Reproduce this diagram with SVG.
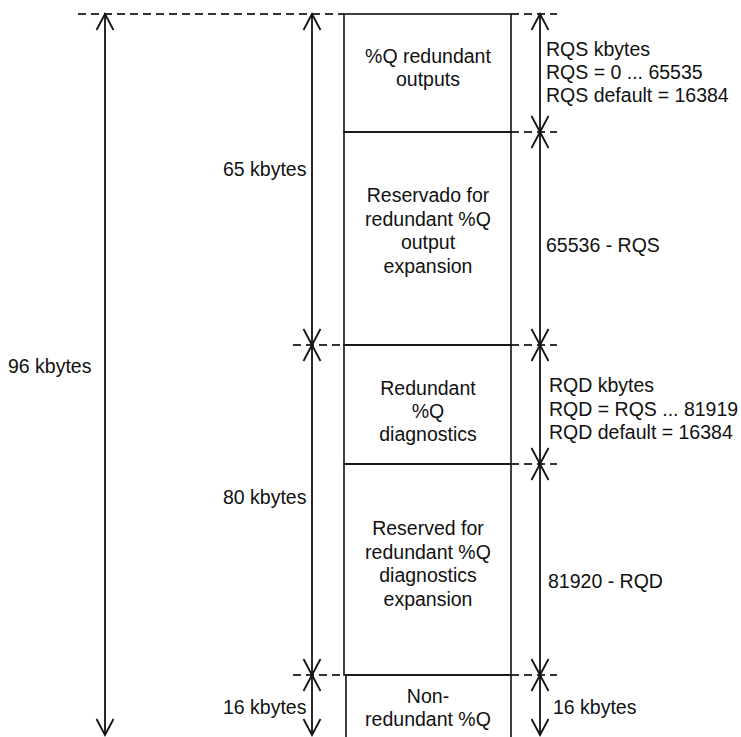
<svg xmlns="http://www.w3.org/2000/svg" width="741" height="737" viewBox="0 0 741 737">
<style>
text{font-family:"Liberation Sans",Arial,sans-serif;font-size:19.5px;fill:#111}
.c{text-anchor:middle}
.box{fill:none;stroke:#111;stroke-width:1.6}
.dash{stroke:#333;stroke-width:2;stroke-dasharray:8,5;fill:none}
.ar{stroke:#111;stroke-width:1.8;fill:none}
</style>
<defs>
<marker id="ah" markerWidth="20" markerHeight="20" refX="18" refY="10" orient="auto-start-reverse" markerUnits="userSpaceOnUse" viewBox="0 0 20 20">
<path d="M2,1.5 L18,10 L2,18.5" fill="none" stroke="#111" stroke-width="1.8"/>
</marker>
</defs>
<rect width="741" height="737" fill="#fff"/>
<g id="connectors">
<line class="dash" x1="78" y1="14" x2="344" y2="14"/>
<line class="dash" x1="293" y1="345" x2="344" y2="345"/>
<line class="dash" x1="293" y1="675" x2="344" y2="675"/>
<line class="dash" x1="511" y1="14" x2="557" y2="14"/>
<line class="dash" x1="511" y1="132" x2="557" y2="132"/>
<line class="dash" x1="511" y1="345" x2="557" y2="345"/>
<line class="dash" x1="511" y1="464" x2="557" y2="464"/>
<line class="dash" x1="511" y1="675" x2="557" y2="675"/>
<path class="ar" d="M105,14 V735" marker-start="url(#ah)" marker-end="url(#ah)"/>
<path class="ar" d="M312,14 V345" marker-start="url(#ah)" marker-end="url(#ah)"/>
<path class="ar" d="M312,345 V675" marker-start="url(#ah)" marker-end="url(#ah)"/>
<path class="ar" d="M312,675 V735" marker-start="url(#ah)" marker-end="url(#ah)"/>
<path class="ar" d="M540,14 V132" marker-start="url(#ah)" marker-end="url(#ah)"/>
<path class="ar" d="M540,132 V345" marker-start="url(#ah)" marker-end="url(#ah)"/>
<path class="ar" d="M540,345 V464" marker-start="url(#ah)" marker-end="url(#ah)"/>
<path class="ar" d="M540,464 V675" marker-start="url(#ah)" marker-end="url(#ah)"/>
<path class="ar" d="M540,675 V735" marker-start="url(#ah)" marker-end="url(#ah)"/>
</g>
<g id="n1">
<rect class="box" x="344" y="14" width="167" height="118"/>
<text class="c" x="428" y="63">%Q redundant</text>
<text class="c" x="428" y="86">outputs</text>
</g>
<g id="n2">
<rect class="box" x="344" y="132" width="167" height="213"/>
<text class="c" x="428" y="202">Reservado for</text>
<text class="c" x="428" y="225.5">redundant %Q</text>
<text class="c" x="428" y="249">output</text>
<text class="c" x="428" y="272.5">expansion</text>
</g>
<g id="n3">
<rect class="box" x="344" y="345" width="167" height="119"/>
<text class="c" x="428" y="395">Redundant</text>
<text class="c" x="428" y="418">%Q</text>
<text class="c" x="428" y="441">diagnostics</text>
</g>
<g id="n4">
<rect class="box" x="344" y="464" width="167" height="211"/>
<text class="c" x="428" y="535">Reserved for</text>
<text class="c" x="428" y="558.5">redundant %Q</text>
<text class="c" x="428" y="582">diagnostics</text>
<text class="c" x="428" y="605.5">expansion</text>
</g>
<g id="n5">
<path class="box" d="M346,740 V675 H511 V740"/>
<text class="c" x="428" y="703">Non-</text>
<text class="c" x="428" y="726">redundant %Q</text>
</g>
<g id="labels">
<text x="8" y="373">96 kbytes</text>
<text x="223" y="176">65 kbytes</text>
<text x="223" y="504">80 kbytes</text>
<text x="223" y="714">16 kbytes</text>
<text x="546" y="56">RQS kbytes</text>
<text x="546" y="79">RQS = 0 ... 65535</text>
<text x="546" y="102">RQS default = 16384</text>
<text x="546" y="252">65536 - RQS</text>
<text x="549" y="392">RQD kbytes</text>
<text x="549" y="415.5">RQD = RQS ... 81919</text>
<text x="549" y="439">RQD default = 16384</text>
<text x="548" y="588">81920 - RQD</text>
<text x="553" y="714">16 kbytes</text>
</g>
</svg>
